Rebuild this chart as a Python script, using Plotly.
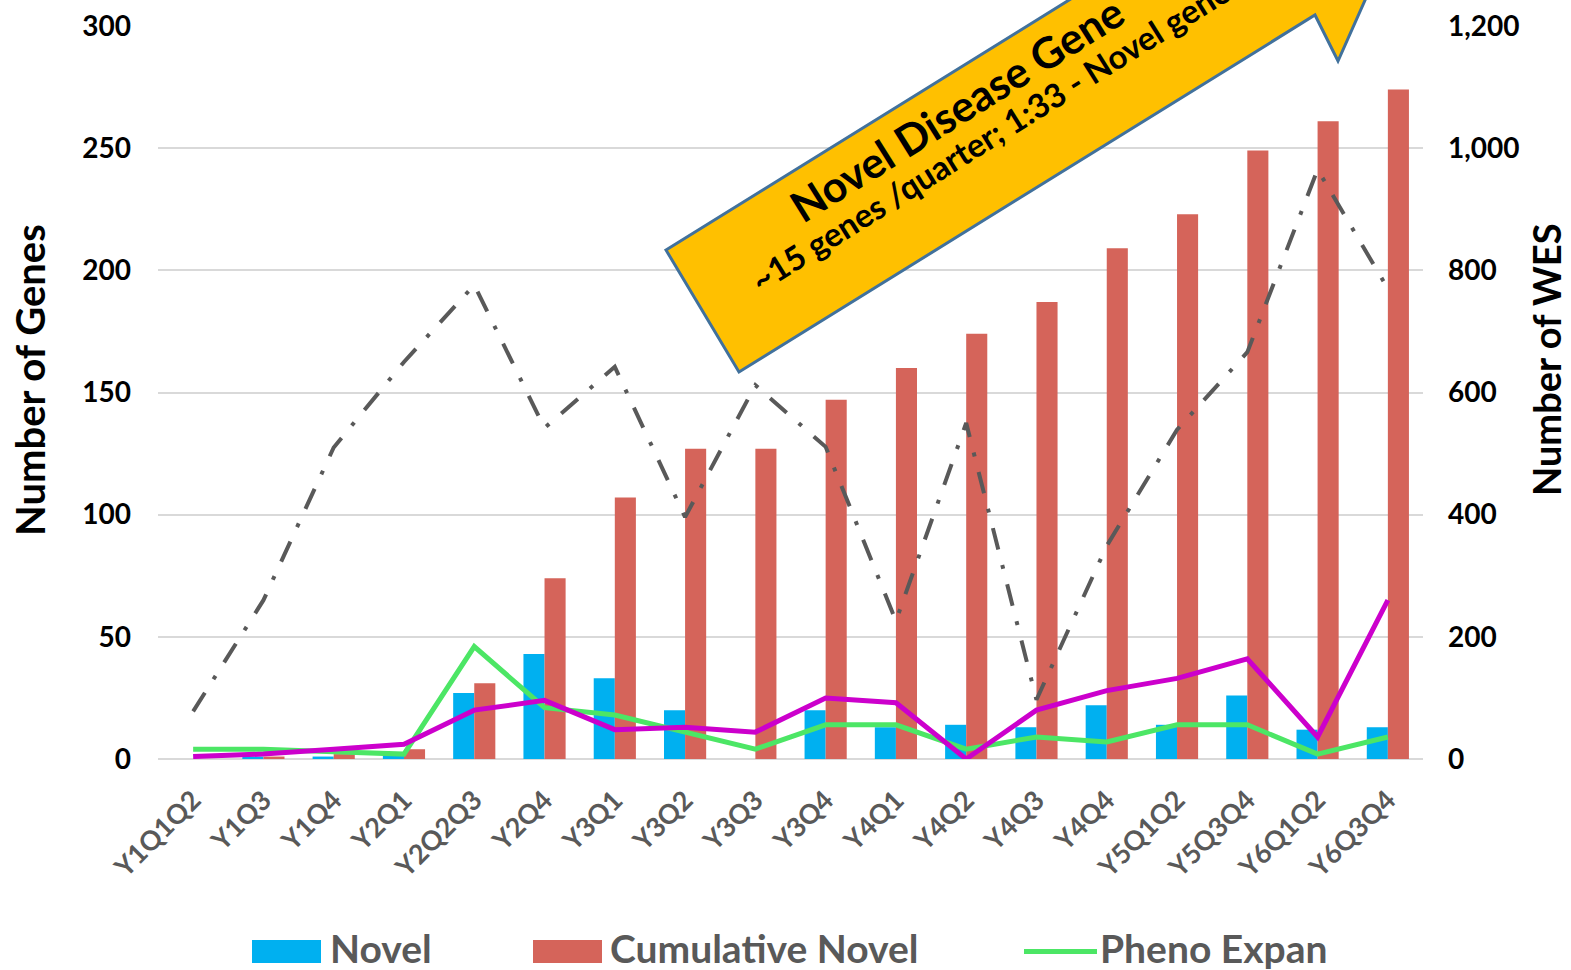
import plotly.graph_objects as go

# Quarterly gene discovery data
quarters = ["Y1Q1Q2", "Y1Q3", "Y1Q4", "Y2Q1", "Y2Q2Q3", "Y2Q4", "Y3Q1", "Y3Q2", "Y3Q3",
            "Y3Q4", "Y4Q1", "Y4Q2", "Y4Q3", "Y4Q4", "Y5Q1Q2", "Y5Q3Q4", "Y6Q1Q2", "Y6Q3Q4"]
novel = [0, 1, 1, 2, 27, 43, 33, 20, 0, 20, 13, 14, 13, 22, 14, 26, 12, 13]
cumulative_novel = [0, 1, 2, 4, 31, 74, 107, 127, 127, 147, 160, 174, 187, 209, 223, 249, 261, 274]
pheno_expan = [4, 4, 3, 2, 46, 21, 18, 11, 4, 14, 14, 4, 9, 7, 14, 14, 2, 9]
known = [1, 2, 4, 6, 20, 24, 12, 13, 11, 25, 23, 0, 20, 28, 33, 41, 9, 65]
wes = [78, 260, 510, 650, 776, 542, 642, 396, 612, 511, 226, 550, 97, 349, 539, 666, 965, 770]

W, H = 1571, 970
ML, MR, MT, MB = 158, 148, 26, 211
PL, PR, PT, PB = ML, W - MR, MT, H - MB

def pxx(x):
    return (x - PL) / (PR - PL)

def pxy(y):
    return (PB - y) / (PB - PT)

FONT = "Lato"
GRAY = "#595959"
BLUE = "#00B0F0"
RED = "#D5645A"
GREEN = "#4CE665"

fig = go.Figure()
fig.add_trace(go.Bar(x=quarters, y=novel, name="Novel", marker_color=BLUE,
                     marker_line_width=0, showlegend=False))
fig.add_trace(go.Bar(x=quarters, y=cumulative_novel, name="Cumulative Novel",
                     marker_color=RED, marker_line_width=0, showlegend=False))
fig.add_trace(go.Scatter(x=quarters, y=pheno_expan, name="Pheno Expan", mode="lines",
                         line=dict(color=GREEN, width=5), showlegend=False))
fig.add_trace(go.Scatter(x=quarters, y=known, name="Known", mode="lines",
                         line=dict(color="#CC00CC", width=5), showlegend=False))
fig.add_trace(go.Scatter(x=quarters, y=wes, name="WES", mode="lines", yaxis="y2",
                         line=dict(color=GRAY, width=4, dash="22px,16px,4px,16px"),
                         showlegend=False))

# Arrow banner (pixel outline converted to paper coordinates)
arrow_px = [(666, 250), (1240, -106), (1210, -147), (1426, -137),
            (1338, 61), (1315, 15), (739, 372)]
path = "M " + " L ".join(f"{pxx(x):.5f},{pxy(y):.5f}" for x, y in arrow_px) + " Z"

shapes = [dict(type="path", path=path, xref="paper", yref="paper",
               fillcolor="#FFC000", line=dict(color="#41719C", width=3), layer="above")]

# Legend swatches
shapes += [
    dict(type="rect", xref="paper", yref="paper", x0=pxx(252), x1=pxx(321),
         y0=pxy(963), y1=pxy(940), fillcolor=BLUE, line_width=0),
    dict(type="rect", xref="paper", yref="paper", x0=pxx(533), x1=pxx(602),
         y0=pxy(963), y1=pxy(940), fillcolor=RED, line_width=0),
    dict(type="line", xref="paper", yref="paper", x0=pxx(1024), x1=pxx(1097),
         y0=pxy(951.5), y1=pxy(951.5), line=dict(color=GREEN, width=5)),
]

annotations = []
for label, xpos in [("Novel", 328), ("Cumulative Novel", 608), ("Pheno Expan", 1098)]:
    annotations.append(dict(text=label, x=pxx(xpos), y=pxy(948), xref="paper", yref="paper",
                            xanchor="left", yanchor="middle", showarrow=False,
                            font=dict(family=FONT, size=39, color=GRAY, weight="bold")))

# Axis titles
annotations.append(dict(text="Number of Genes", x=pxx(30), y=pxy(380), xref="paper", yref="paper",
                        xanchor="center", yanchor="middle", textangle=-90, showarrow=False,
                        font=dict(family=FONT, size=40, color="black", weight="bold")))
annotations.append(dict(text="Number of WES", x=pxx(1546), y=pxy(360), xref="paper", yref="paper",
                        xanchor="center", yanchor="middle", textangle=-90, showarrow=False,
                        font=dict(family=FONT, size=38, color="black", weight="bold")))

# Banner text
ang = -32
annotations.append(dict(text="Novel Disease Gene", x=pxx(778), y=pxy(234),
                        xref="paper", yref="paper", xanchor="left", yanchor="bottom",
                        textangle=ang, showarrow=False,
                        font=dict(family=FONT, size=43, color="black", weight="bold")))
annotations.append(dict(text="~15 genes /quarter; 1:33 - Novel genes", x=pxx(740), y=pxy(302),
                        xref="paper", yref="paper", xanchor="left", yanchor="bottom",
                        textangle=ang, showarrow=False,
                        font=dict(family=FONT, size=33, color="black", weight="bold")))

fig.update_layout(
    width=W, height=H,
    margin=dict(l=ML, r=MR, t=MT, b=MB, autoexpand=False),
    paper_bgcolor="white", plot_bgcolor="white",
    barmode="group", bargap=0.4, bargroupgap=0,
    font=dict(family=FONT),
    xaxis=dict(type="category", tickangle=-45, showgrid=False, zeroline=False, showline=False,
               ticks="", ticklabelstandoff=19,
               tickfont=dict(family=FONT, size=27, color=GRAY, weight="bold")),
    yaxis=dict(range=[0, 300], dtick=50, showgrid=True, gridcolor="#D9D9D9", gridwidth=1.5,
               zeroline=True, zerolinecolor="#D9D9D9", zerolinewidth=1.5, showline=False,
               ticks="", ticklabelstandoff=26,
               tickfont=dict(family=FONT, size=28, color="black", weight="bold")),
    yaxis2=dict(range=[0, 1200], dtick=200, overlaying="y", side="right", showgrid=False,
                zeroline=False, showline=False, ticks="", tickformat=",", ticklabelstandoff=24,
                tickfont=dict(family=FONT, size=28, color="black", weight="bold")),
    shapes=shapes,
    annotations=annotations,
)

fig.write_html("out.html", config={"displayModeBar": False})
